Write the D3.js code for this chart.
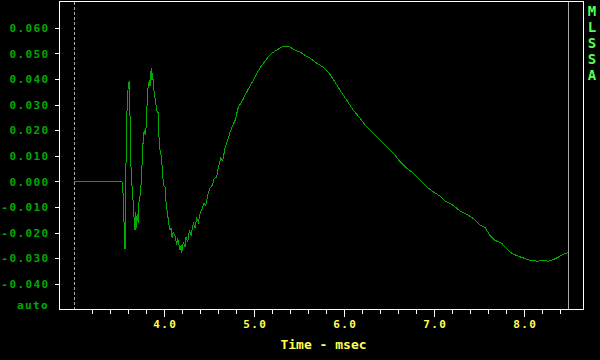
<!DOCTYPE html>
<html>
<head>
<meta charset="utf-8">
<script src="https://cdn.jsdelivr.net/npm/d3@7"></script>
<style>
  html, body { margin: 0; padding: 0; background: #000; }
  svg { display: block; }
  text { font-family: "DejaVu Sans Mono", monospace; font-weight: bold; }
</style>
</head>
<body>
<svg id="chart" width="600" height="360"></svg>
<script>
// time (msec) and amplitude
var TimeMs = [3.000, 3.527, 3.536, 3.541, 3.552, 3.563, 3.569, 3.574, 3.586, 3.600,
	3.608, 3.616, 3.622, 3.630, 3.638, 3.652, 3.663, 3.674, 3.682, 3.689,
	3.697, 3.711, 3.719, 3.730, 3.738, 3.749, 3.760, 3.767, 3.778, 3.789,
	3.797, 3.804, 3.811, 3.822, 3.833, 3.841, 3.849, 3.856, 3.863, 3.871,
	3.878, 3.889, 3.904, 3.916, 3.933, 3.944, 3.963, 3.980, 3.989, 4.008,
	4.019, 4.033, 4.049, 4.063, 4.074, 4.086, 4.097, 4.119, 4.138, 4.147,
	4.156, 4.174, 4.186, 4.193, 4.211, 4.230, 4.241, 4.260, 4.278, 4.297,
	4.322, 4.341, 4.360, 4.378, 4.397, 4.422, 4.441, 4.460, 4.482, 4.508,
	4.533, 4.556, 4.582, 4.600, 4.627, 4.649, 4.674, 4.704, 4.730, 4.760,
	4.786, 4.822, 4.869, 4.908, 4.944, 4.989, 5.027, 5.063, 5.100, 5.144,
	5.193, 5.249, 5.304, 5.341, 5.397, 5.452, 5.508, 5.563, 5.619, 5.693,
	5.767, 5.822, 5.878, 5.952, 6.027, 6.100, 6.174, 6.249, 6.322, 6.397,
	6.471, 6.544, 6.619, 6.693, 6.767, 6.841, 6.916, 6.989, 7.063, 7.119,
	7.193, 7.286, 7.360, 7.433, 7.508, 7.563, 7.619, 7.674, 7.749, 7.804,
	7.860, 7.933, 8.008, 8.082, 8.156, 8.211, 8.267, 8.322, 8.378, 8.433,
	8.482];
var Amplitude = [0, 0, -0.0007, -0.0046, -0.0159, -0.0263, -0.0221, 0.0071, 0.0290, 0.0384,
	0.0388, 0.0345, 0.0122, 0.0052, -0.0003, -0.0073, -0.0139, -0.0190, -0.0120, -0.0182,
	-0.0128, -0.0163, -0.0073, -0.0057, -0.0034, 0.0044, 0.0122, 0.0185, 0.0200, 0.0181,
	0.0212, 0.0247, 0.0345, 0.0376, 0.0396, 0.0372, 0.0423, 0.0443, 0.0396, 0.0423,
	0.0368, 0.0345, 0.0306, 0.0278, 0.0267, 0.0134, 0.0103, 0.0044, -0.0014, -0.0022,
	-0.0085, -0.0120, -0.0163, -0.0190, -0.0182, -0.0221, -0.0198, -0.0214, -0.0249, -0.0221,
	-0.0237, -0.0268, -0.0249, -0.0280, -0.0237, -0.0256, -0.0217, -0.0237, -0.0190, -0.0210,
	-0.0163, -0.0182, -0.0143, -0.0159, -0.0124, -0.0104, -0.0085, -0.0093, -0.0053, -0.0026,
	-0.0014, 0.0013, 0.0017, 0.0056, 0.0091, 0.0083, 0.0130, 0.0161, 0.0193, 0.0220,
	0.0239, 0.0290, 0.0317, 0.0345, 0.0368, 0.0396, 0.0423, 0.0443, 0.0462, 0.0482,
	0.0501, 0.0513, 0.0525, 0.0529, 0.0525, 0.0513, 0.0505, 0.0493, 0.0482, 0.0462,
	0.0446, 0.0427, 0.0399, 0.0356, 0.0317, 0.0278, 0.0247, 0.0213, 0.0189, 0.0161,
	0.0135, 0.0111, 0.0077, 0.0052, 0.0032, 0.0005, -0.0021, -0.0041, -0.0057, -0.0076,
	-0.0089, -0.0115, -0.0128, -0.0145, -0.0171, -0.0180, -0.0211, -0.0230, -0.0242, -0.0262,
	-0.0281, -0.0292, -0.0301, -0.0310, -0.0311, -0.0309, -0.0311, -0.0305, -0.0295, -0.0284,
	-0.0279];

var YTicks = [0.06, 0.05, 0.04, 0.03, 0.02, 0.01, 0, -0.01, -0.02, -0.03, -0.04];
var XMajorTicks = [4, 5, 6, 7, 8];
var XMinorTicks = d3.range(16, 43).map(function(d) { return d / 5; });	// 3.2 .. 8.4
var GateStart = 3.0, GateEnd = 8.489;
var SideLabel = ["M", "L", "S", "S", "A"];

var Green = "#00aa00", LightGreen = "#55ff55", Yellow = "#ffff55", Gray = "#aaaaaa";

var svg = d3.select("#chart");
svg.append("rect").attr("width", 600).attr("height", 360).attr("fill", "#000");

var x = d3.scaleLinear().domain([2.835, 8.657]).range([59.5, 583.5]);
var y = d3.scaleLinear().domain([-0.05, 0.0703]).range([309.5, 1.5]);

// y axis
var yAxis = d3.axisLeft(y).tickValues(YTicks).tickSize(5).tickPadding(5)
	.tickFormat(function(d) { return d3.format(".3f")(d).replace("\u2212", "-"); });
var gy = svg.append("g").attr("transform", "translate(59.5,0)").call(yAxis);
gy.select(".domain").remove();
gy.selectAll("line").attr("stroke", "#fff").attr("shape-rendering", "crispEdges");
gy.selectAll("text").attr("fill", Green).attr("font-size", 11).attr("letter-spacing", 1.4)
	.attr("font-family", null);

svg.append("text").attr("x", 49).attr("y", 309).attr("text-anchor", "end")
	.attr("fill", Green).attr("font-size", 11).attr("letter-spacing", 1.4).text("auto");

// x axis
var gx = svg.append("g").attr("transform", "translate(0,309.5)");
gx.selectAll("line.minor").data(XMinorTicks).enter().append("line")
	.attr("x1", function(d) { return Math.round(x(d)) + 0.5; })
	.attr("x2", function(d) { return Math.round(x(d)) + 0.5; })
	.attr("y1", 0).attr("y2", function(d) { return XMajorTicks.indexOf(d) >= 0 ? 7 : 4; })
	.attr("stroke", "#fff").attr("shape-rendering", "crispEdges");
gx.selectAll("text").data(XMajorTicks).enter().append("text")
	.attr("x", function(d) { return x(d) + 1; })
	.attr("y", 18).attr("text-anchor", "middle")
	.attr("fill", Yellow).attr("font-size", 11).attr("letter-spacing", 1.4)
	.text(function(d) { return d3.format(".1f")(d); });

svg.append("text").attr("x", 323.5).attr("y", 349).attr("text-anchor", "middle")
	.attr("fill", Yellow).attr("font-size", 13).text("Time - msec");

// gate markers
svg.append("line").attr("x1", Math.floor(x(GateStart)) + 0.5).attr("x2", Math.floor(x(GateStart)) + 0.5)
	.attr("y1", 2).attr("y2", 309).attr("stroke", Gray).attr("stroke-dasharray", "3,2");
svg.append("line").attr("x1", Math.floor(x(GateEnd)) + 0.5).attr("x2", Math.floor(x(GateEnd)) + 0.5)
	.attr("y1", 2).attr("y2", 309).attr("stroke", Gray);

// trace, drawn without smoothing to keep the stepped screen look
var pts = TimeMs.map(function(t, i) { return [t, Amplitude[i]]; });
svg.append("path").datum(pts)
	.attr("fill", "none").attr("stroke", Green).attr("stroke-width", 1)
	.attr("shape-rendering", "crispEdges")
	.attr("d", d3.line().x(function(d) { return x(d[0]); }).y(function(d) { return y(d[1]); }));

// frame
svg.append("rect").attr("x", 59.5).attr("y", 1.5).attr("width", 524).attr("height", 308)
	.attr("fill", "none").attr("stroke", "#fff").attr("shape-rendering", "crispEdges");

// side label
svg.selectAll("text.side").data(SideLabel).enter().append("text")
	.attr("x", 592).attr("y", function(d, i) { return 16 + i * 16; })
	.attr("text-anchor", "middle").attr("fill", LightGreen).attr("font-size", 14)
	.text(function(d) { return d; });
</script>
</body>
</html>
